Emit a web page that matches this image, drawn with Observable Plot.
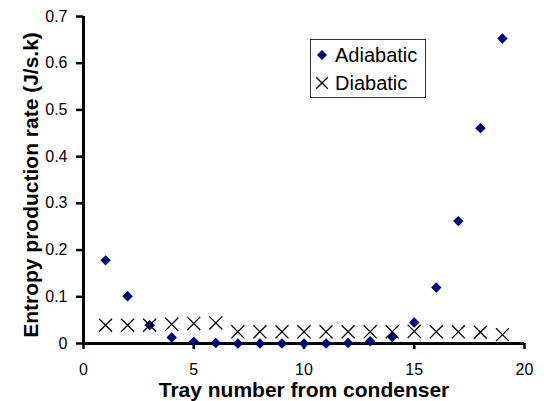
<!DOCTYPE html>
<html><head><meta charset="utf-8">
<script src="https://cdn.jsdelivr.net/npm/d3@7"></script>
<script src="https://cdn.jsdelivr.net/npm/@observablehq/plot@0.6"></script>
<style>
html,body{margin:0;padding:0;background:#fff;}
#chart{position:relative;width:544px;height:401px;}
#legend{position:absolute;left:310px;top:39px;}
</style></head><body><div id="chart"></div>
<script>
const trays = [1,2,3,4,5,6,7,8,9,10,11,12,13,14,15,16,17,18,19];
const adiabatic = [0.178,0.101,0.039,0.013,0.004,0.001,0,0,0,0,0,0.001,0.005,0.014,0.045,0.120,0.262,0.461,0.653];
const diabatic = [0.039,0.039,0.039,0.041,0.043,0.044,0.025,0.025,0.025,0.025,0.025,0.025,0.025,0.025,0.026,0.025,0.025,0.024,0.019];
const seriesNames = ["Adiabatic","Diabatic"];
const xTicks = [0,5,10,15,20];
const yTicks = [0,0.1,0.2,0.3,0.4,0.5,0.6,0.7];
const xTitle = "Tray number from condenser";
const yTitle = "Entropy production rate (J/s.k)";

const font = '"Liberation Sans", Arial, Helvetica, sans-serif';
const data = trays.map((t,i)=>({tray:t, adiabatic:adiabatic[i], diabatic:diabatic[i]}));

const plot = Plot.plot({
  width:544, height:401,
  marginLeft:83, marginRight:20, marginTop:16, marginBottom:58,
  style:{fontFamily:font, fontSize:"16px", color:"#000", background:"#fff", overflow:"visible"},
  x:{domain:[0,20]},
  y:{domain:[0,0.7]},
  marks:[
    Plot.axisX({ticks:xTicks, tickSize:6, tickPadding:14, strokeWidth:2.5, fontSize:16, label:null, tickFormat:d=>String(d)}),
    Plot.axisY({ticks:yTicks, tickSize:7, tickPadding:9, strokeWidth:2.5, fontSize:16, label:null, tickFormat:d=>d===0?"0":d3.format(".1f")(d)}),
    Plot.ruleX([0], {stroke:"#000", strokeWidth:3}),
    Plot.ruleY([0], {stroke:"#000", strokeWidth:3}),
    Plot.dot(data, {x:"tray", y:"adiabatic", symbol:"diamond2", r:4.7, fill:"#000080", stroke:"none"}),
    Plot.dot(data, {x:"tray", y:"diabatic", symbol:"times", r:6, stroke:"#000", strokeWidth:1.3}),
    Plot.text([xTitle], {text:d=>d, frameAnchor:"bottom", dy:53, lineAnchor:"bottom", textAnchor:"middle", fontWeight:"bold", fontSize:21}),
    Plot.text([yTitle], {text:d=>d, frameAnchor:"left", dx:-46, dy:5, rotate:-90, lineAnchor:"bottom", textAnchor:"middle", fontWeight:"bold", fontSize:21})
  ]
});
const chart = document.getElementById("chart");
chart.appendChild(plot);

// legend
const legendItems = [
  {label:seriesNames[0], symbol:d3.symbolDiamond2, size:64, fill:"#000080", stroke:"none", sw:0},
  {label:seriesNames[1], symbol:d3.symbolTimes, size:90, fill:"none", stroke:"#000", sw:1.3}
];
const lw = 116, lh = 59;
const lg = d3.create("svg").attr("id","legend").attr("width",lw).attr("height",lh)
  .style("font-family",font).style("font-size","20px");
lg.append("rect").attr("x",0.5).attr("y",0.5).attr("width",lw-1).attr("height",lh-1)
  .attr("fill","#fff").attr("stroke","#333").attr("stroke-width",1);
legendItems.forEach((it,i)=>{
  const cy = 16 + i*28;
  lg.append("path").attr("transform",`translate(12,${cy})`)
    .attr("d", d3.symbol(it.symbol, it.size)())
    .attr("fill",it.fill).attr("stroke",it.stroke).attr("stroke-width",it.sw);
  lg.append("text").attr("x",25).attr("y",cy+7).text(it.label);
});
chart.appendChild(lg.node());
</script></body></html>
